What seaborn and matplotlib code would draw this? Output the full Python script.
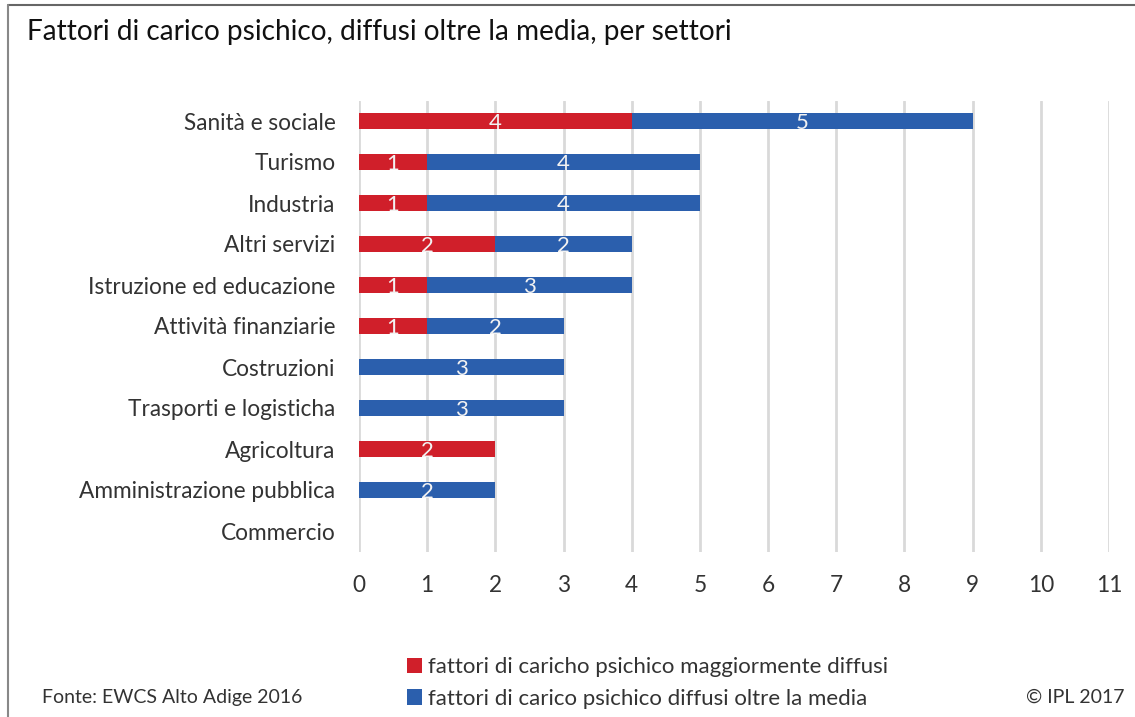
import matplotlib
matplotlib.use("Agg")
import matplotlib.pyplot as plt
from matplotlib.lines import Line2D
from matplotlib.patches import Patch
import seaborn as sns
import pandas as pd

categories = ["Sanità e sociale", "Turismo", "Industria", "Altri servizi",
              "Istruzione ed educazione", "Attività finanziarie", "Costruzioni",
              "Trasporti e logisticha", "Agricoltura", "Amministrazione pubblica",
              "Commercio"]
red_values = [4, 1, 1, 2, 1, 1, 0, 0, 2, 0, 0]
blue_values = [5, 4, 4, 2, 3, 2, 3, 3, 0, 2, 0]
series_names = ["fattori di caricho psichico maggiormente diffusi",
                "fattori di carico psichico diffusi oltre la media"]
x_ticks = list(range(0, 12))

RED = "#D01F2A"
BLUE = "#2B5FAD"
FONT = ["Lato", "DejaVu Sans"]

sns.set_theme(style="white")
plt.rcParams["font.family"] = FONT

df = pd.DataFrame({"cat": categories, "red": red_values, "blue": blue_values})
df["total"] = df["red"] + df["blue"]

fig = plt.figure(figsize=(11.35, 7.17), dpi=100)
ax = fig.add_axes([359 / 1135, 1 - 551.5 / 717, (1109 - 359) / 1135, (551.5 - 100.5) / 717])

for x in x_ticks:
    ax.axvline(x, color="#D9D9D9", lw=2, zorder=0)

sns.barplot(data=df, x="total", y="cat", color=BLUE, width=0.4, ax=ax,
            saturation=1, zorder=2, linewidth=0)
sns.barplot(data=df, x="red", y="cat", color=RED, width=0.4, ax=ax,
            saturation=1, zorder=3, linewidth=0)

for i, (r, b) in enumerate(zip(red_values, blue_values)):
    if r > 0:
        ax.text(r / 2, i + 0.04, str(r), ha="center", va="center", color="#F2F2F2",
                fontsize=16, zorder=5)
    if b > 0:
        ax.text(r + b / 2, i + 0.04, str(b), ha="center", va="center", color="#F2F2F2",
                fontsize=16, zorder=5)

ax.set_xlim(0, 11)
ax.set_ylim(10.5, -0.5)
ax.set_xticks(x_ticks)
ax.set_xlabel("")
ax.set_ylabel("")
for s in ax.spines.values():
    s.set_visible(False)
ax.tick_params(axis="y", length=0, pad=17, labelsize=16.3, labelcolor="#333333")
ax.tick_params(axis="x", length=0, pad=17, labelsize=16.3, labelcolor="#333333")

fig.text(27 / 1135, 1 - 32 / 717, "Fattori di carico psichico, diffusi oltre la media, per settori",
         fontsize=20.2, color="#111111", va="center", ha="left")

# legend
handles = [Patch(facecolor=RED, edgecolor="none"), Patch(facecolor=BLUE, edgecolor="none")]
leg = fig.legend(handles, series_names, loc="center left",
                 bbox_to_anchor=(398 / 1135, 1 - 683 / 717), frameon=False,
                 fontsize=16, handlelength=0.7, handleheight=0.7,
                 handletextpad=0.25, labelspacing=0.5, borderaxespad=0)
for t in leg.get_texts():
    t.set_color("#333333")

fig.text(42 / 1135, 1 - 697 / 717, "Fonte: EWCS Alto Adige 2016", fontsize=14,
         color="#333333", va="center", ha="left")
fig.text(1125 / 1135, 1 - 697 / 717, "© IPL 2017", fontsize=14,
         color="#333333", va="center", ha="right")

# border lines
fig.add_artist(Line2D([8 / 1135, 1], [1 - 5 / 717, 1 - 5 / 717], transform=fig.transFigure,
                      color="#666666", lw=1.5))
fig.add_artist(Line2D([8 / 1135, 8 / 1135], [0, 1 - 5 / 717], transform=fig.transFigure,
                      color="#888888", lw=1.5))

fig.savefig("out.png", dpi=100)
